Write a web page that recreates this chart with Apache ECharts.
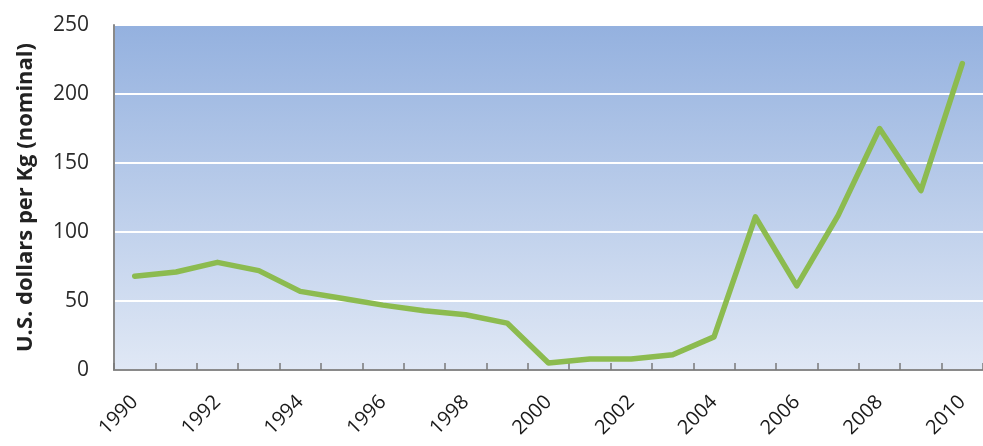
<!DOCTYPE html>
<html>
<head>
<meta charset="utf-8">
<script src="https://cdn.jsdelivr.net/npm/echarts@6/dist/echarts.min.js"></script>
<style>
  html, body { margin: 0; padding: 0; background: #ffffff; }
  #chart { width: 983px; height: 446px; }
</style>
</head>
<body>
<div id="chart"></div>
<script>
// Years on the category axis
const years = ['1990','1991','1992','1993','1994','1995','1996','1997','1998','1999','2000',
               '2001','2002','2003','2004','2005','2006','2007','2008','2009','2010'];
// Price, U.S. dollars per kg (nominal)
const prices = [68, 71, 78, 72, 57, 52, 47, 43, 40, 34, 5,
                8, 8, 11, 24, 111, 61, 112, 175, 130, 222];
// Value axis ticks
const yTicks = [0, 50, 100, 150, 200, 250];

const chart = echarts.init(document.getElementById('chart'), null, { renderer: 'canvas' });

chart.setOption({
  animation: false,
  backgroundColor: '#ffffff',
  grid: {
    left: 114, top: 25, width: 876, height: 345,
    show: true,
    borderWidth: 0,
    backgroundColor: new echarts.graphic.LinearGradient(0, 0, 0, 1, [
      { offset: 0, color: '#94b1df' },
      { offset: 1, color: '#e0e8f5' }
    ])
  },
  xAxis: {
    type: 'category',
    data: years,
    boundaryGap: true,
    axisLine: { show: true, lineStyle: { color: '#8a8a8a', width: 2 } },
    axisTick: { show: true, inside: true, length: 7, interval: 0,
                lineStyle: { color: '#7a7a7a', width: 1.5 } },
    axisLabel: {
      interval: 1, rotate: 45, margin: 29,
      color: '#1a1a1a', fontFamily: 'Open Sans', fontSize: 20
    },
    splitLine: { show: false }
  },
  yAxis: {
    type: 'value',
    min: yTicks[0], max: yTicks[yTicks.length - 1], interval: 50,
    name: 'U.S. dollars per Kg (nominal)',
    nameLocation: 'middle',
    nameGap: 77,
    nameTextStyle: { color: '#222222', fontFamily: 'Open Sans', fontSize: 22, fontWeight: 'bold' },
    axisLine: { show: true, lineStyle: { color: '#8a8a8a', width: 2 } },
    axisTick: { show: false },
    axisLabel: { color: '#2a2a2a', fontFamily: 'Open Sans', fontSize: 21, margin: 25 },
    splitLine: { show: true, lineStyle: { color: '#ffffff', width: 2 } }
  },
  series: [{
    type: 'line',
    data: prices,
    symbol: 'none',
    smooth: false,
    lineStyle: { color: '#8cbb4f', width: 5.5, join: 'round', cap: 'round' }
  }]
});
</script>
</body>
</html>
